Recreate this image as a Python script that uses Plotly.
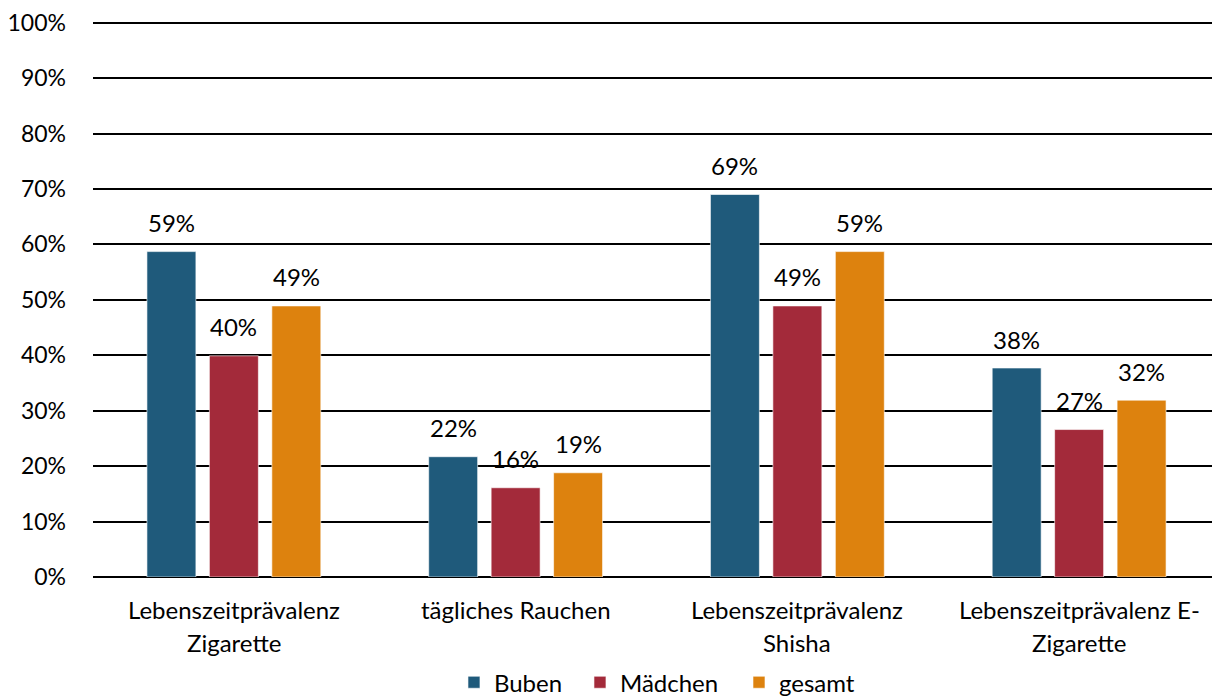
import plotly.graph_objects as go

categories = ["Lebenszeitprävalenz<br>Zigarette", "tägliches Rauchen",
              "Lebenszeitprävalenz<br>Shisha", "Lebenszeitprävalenz E-<br>Zigarette"]
buben = [58.7, 21.7, 69.0, 37.7]
maedchen = [39.9, 16.1, 48.9, 26.6]
gesamt = [48.9, 18.8, 58.7, 31.9]
series_names = ["Buben", "Mädchen", "gesamt"]
colors = ["#1F5A7B", "#A32A3A", "#DD820E"]
y_ticks = list(range(0, 101, 10))
y_ticklabels = [f"{v}%" for v in y_ticks]

FONT = "Lato"
FS = 24
legend_ids = ["legend", "legend2", "legend3"]
legend_x = [0.3203, 0.4321, 0.5732]

fig = go.Figure()
for name, vals, col, lg in zip(series_names, [buben, maedchen, gesamt], colors, legend_ids):
    fig.add_trace(go.Bar(
        name=name, x=categories, y=vals, legend=lg,
        marker=dict(color=col, line=dict(color="rgba(255,255,255,0.6)", width=1)),
    ))

# data labels above bars
offsets = [-62.5, 0, 62.5]
for vals, dx in zip([buben, maedchen, gesamt], offsets):
    for c, v in zip(categories, vals):
        fig.add_annotation(x=c, y=v, xref="x", yref="y", text=f"{v:.0f}%",
                           showarrow=False, xshift=dx, yshift=29, yanchor="middle",
                           font=dict(family=FONT, size=FS, color="#000"))

# category labels
for c in categories:
    for i, line in enumerate(c.split("<br>")):
        fig.add_annotation(x=c, y=0, xref="x", yref="paper", text=line,
                           showarrow=False, yanchor="middle", yshift=-32 - 33 * i,
                           font=dict(family=FONT, size=FS, color="#000"))

legend_style = dict(orientation="h", xanchor="left", y=-0.19, yanchor="middle",
                    font=dict(family=FONT, size=FS, color="#000"), bgcolor="rgba(0,0,0,0)")
fig.update_layout(
    width=1212, height=688,
    margin=dict(l=85, r=0, t=13, b=119, autoexpand=False),
    paper_bgcolor="white", plot_bgcolor="white",
    barmode="group", bargap=0.335, bargroupgap=0.216,
    font=dict(family=FONT, size=FS, color="#000"),
    showlegend=True,
    **{lg: dict(legend_style, x=lx) for lg, lx in zip(legend_ids, legend_x)},
)
fig.update_xaxes(showticklabels=False, showline=False, showgrid=False, automargin=False)
fig.update_yaxes(range=[0, 100.3], tickvals=y_ticks, ticktext=y_ticklabels,
                 showgrid=True, gridcolor="#000", gridwidth=1.5,
                 zeroline=True, zerolinecolor="#000", zerolinewidth=1.5,
                 ticklabelstandoff=26, ticks="", tickfont=dict(size=23),
                 ticklabeloverflow="allow", automargin=False)
fig.write_html("out.html")
